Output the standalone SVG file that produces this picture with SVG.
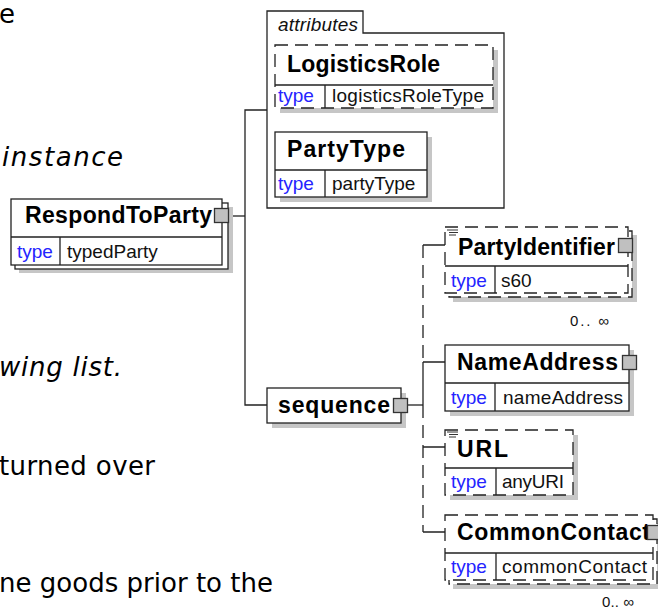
<svg xmlns="http://www.w3.org/2000/svg" width="658" height="612" viewBox="0 0 658 612">
<style>
.bg{font-family:"DejaVu Sans",Verdana,sans-serif;font-size:26px;fill:#000}
.it{font-style:italic}
.box{fill:#fff;stroke:#222;stroke-width:1.3}
.dash{stroke-dasharray:13 7}
.sh{fill:#c6c6c6}
.name{font-family:"Liberation Sans",Arial,sans-serif;font-weight:bold;font-size:23px;fill:#000}
.type{font-family:"Liberation Sans",Arial,sans-serif;font-size:19px;fill:#2424ff}
.val{font-family:"Liberation Sans",Arial,sans-serif;font-size:19px;fill:#111}
.occ{font-family:"Liberation Sans",Arial,sans-serif;font-size:15px;fill:#111}
.ln{stroke:#222;stroke-width:1.3;fill:none}
.exp{fill:#c0c0c0;stroke:#333;stroke-width:1.3}
.doc{stroke:#333;stroke-width:1}
</style>

<g id="background-text">
<text class="bg" x="-1" y="23">e</text>
<text class="bg it" x="2" y="166" textLength="121">instance</text>
<text class="bg it" x="-1" y="376" textLength="123">wing list.</text>
<text class="bg" x="-1" y="475" textLength="156">turned over</text>
<text class="bg" x="-1" y="592" textLength="274">ne goods prior to the</text>
</g>

<g id="connectors">
<path class="ln" d="M229,216 H245"/>
<path class="ln" d="M267,110 H245 V405 H267"/>
<path class="ln" d="M407,405 H423"/>
<path class="ln dash" d="M423,245 V362"/>
<path class="ln" d="M423,362 V405"/>
<path class="ln dash" d="M423,405 V532"/>
<path class="ln" d="M423,245 H445 M423,362 H445 M423,447 H445 M423,532 H445"/>
</g>

<g id="RespondToParty">
<rect class="sh" x="19" y="207" width="214" height="66"/>
<rect class="box" x="15" y="203" width="213" height="66"/>
<rect class="box" x="11" y="199" width="211" height="66"/>
<path class="ln" d="M11,237 H222 M60,237 V265"/>
<text class="name" x="25" y="223" textLength="187">RespondToParty</text>
<text class="type" x="17" y="258">type</text>
<text class="val" x="67" y="258">typedParty</text>
<rect class="exp" x="214.5" y="208.5" width="14" height="14"/>
</g>

<g id="attributes">
<path class="box" d="M267,208 V11 H363 V33 H504 V208 Z"/>
<text class="val it" x="278" y="31" font-size="17" textLength="80">attributes</text>
</g>

<g id="LogisticsRole">
<rect class="sh" x="280" y="50" width="218" height="63"/>
<rect class="box dash" x="275" y="45" width="218" height="63"/>
<path class="ln" d="M275,85 H493 M325,85 V108"/>
<text class="name" x="287" y="72" textLength="153">LogisticsRole</text>
<text class="type" x="278" y="102">type</text>
<text class="val" x="332" y="102" textLength="152">logisticsRoleType</text>
</g>

<g id="PartyType">
<rect class="sh" x="280" y="137" width="152" height="65"/>
<rect class="box" x="275" y="132" width="152" height="65"/>
<path class="ln" d="M275,170 H427 M325,170 V197"/>
<text class="name" x="287" y="157" textLength="118">PartyType</text>
<text class="type" x="278" y="190">type</text>
<text class="val" x="332" y="190">partyType</text>
</g>

<g id="sequence">
<rect class="sh" x="272" y="393" width="134" height="35"/>
<rect class="box" x="267" y="388" width="134" height="35"/>
<text class="name" x="278" y="413" textLength="112">sequence</text>
<rect class="exp" x="393.5" y="398.5" width="14" height="14"/>
</g>

<g id="PartyIdentifier">
<rect class="sh" x="453" y="235" width="184" height="67"/>
<rect class="box dash" x="449" y="231" width="183" height="66"/>
<rect class="box dash" x="445" y="227" width="183" height="66"/>
<path class="ln" d="M445,266 H628 M495,266 V293"/>
<path class="doc" d="M447,230 H458 M449,232.5 H458 M449,235 H456"/>
<text class="name" x="458" y="255" textLength="157">PartyIdentifier</text>
<text class="type" x="451" y="287">type</text>
<text class="val" x="501" y="287">s60</text>
<rect class="exp" x="618.5" y="238.5" width="14" height="14"/>
<text class="occ" x="570" y="326" textLength="39">0.. ∞</text>
</g>

<g id="NameAddress">
<rect class="sh" x="450" y="350" width="184" height="66"/>
<rect class="box" x="445" y="345" width="184" height="66"/>
<path class="ln" d="M445,383 H629 M495,383 V411"/>
<text class="name" x="457" y="370" textLength="161">NameAddress</text>
<text class="type" x="451" y="404">type</text>
<text class="val" x="503" y="404" textLength="120">nameAddress</text>
<rect class="exp" x="622.5" y="355.5" width="14" height="14"/>
</g>

<g id="URL">
<rect class="sh" x="450" y="435" width="128" height="65"/>
<rect class="box dash" x="445" y="430" width="128" height="65"/>
<path class="ln" d="M445,468 H573 M496,468 V495"/>
<path class="doc" d="M447,432 H458 M449,434.5 H458 M449,437 H456"/>
<text class="name" x="457" y="457" textLength="51">URL</text>
<text class="type" x="451" y="488">type</text>
<text class="val" x="502" y="488" textLength="62">anyURI</text>
</g>

<g id="CommonContact">
<rect class="sh" x="453" y="523" width="210" height="66"/>
<rect class="box dash" x="449" y="519" width="208" height="65"/>
<rect class="box dash" x="445" y="515" width="208" height="65"/>
<path class="ln" d="M445,553 H653 M496,553 V580"/>
<text class="name" x="457" y="540" textLength="193">CommonContact</text>
<text class="type" x="451" y="573">type</text>
<text class="val" x="502" y="573" textLength="145">commonContact</text>
<rect class="exp" x="647.5" y="525.5" width="14" height="14"/>
<text class="occ" x="602" y="607" textLength="32">0.. ∞</text>
</g>
</svg>
